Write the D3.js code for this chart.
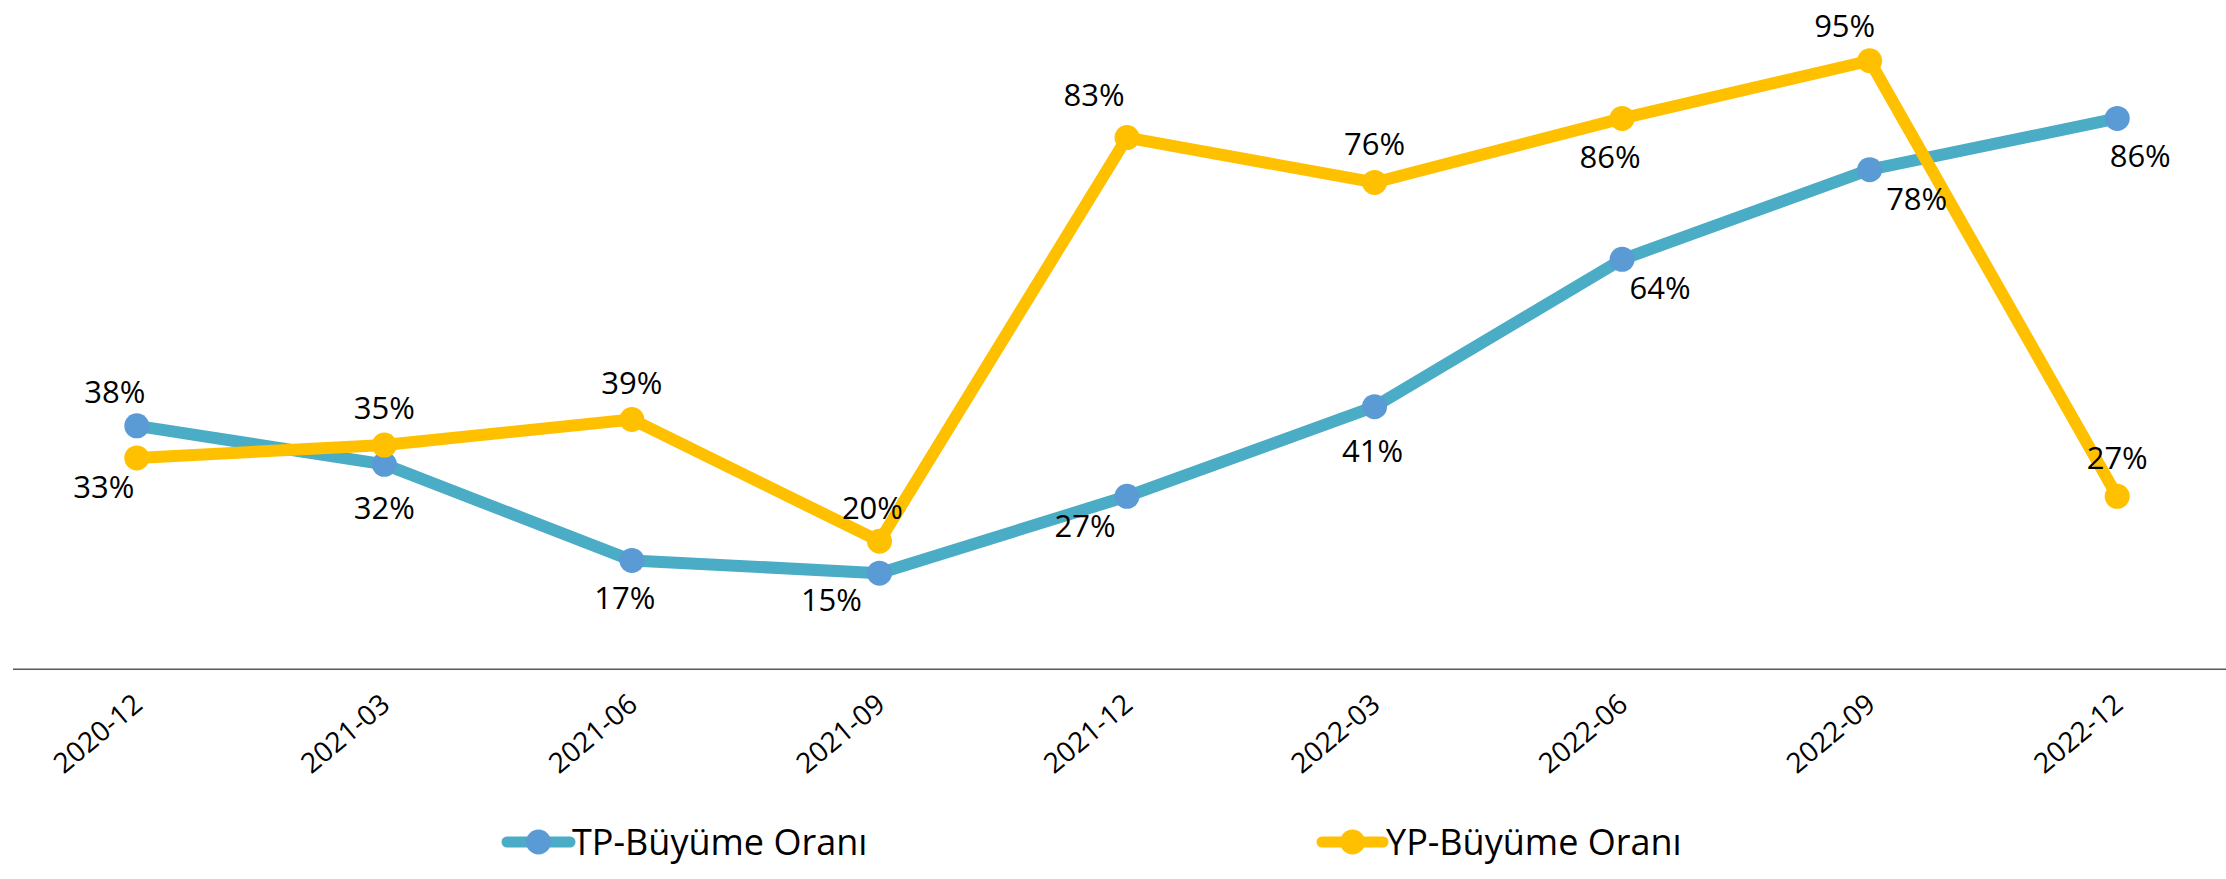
<!DOCTYPE html>
<html>
<head>
<meta charset="utf-8">
<script src="https://cdn.jsdelivr.net/npm/d3@7"></script>
<style>
  html, body { margin: 0; padding: 0; background: #fff; }
  svg { display: block; }
  text { font-family: "Open Sans", "Noto Sans", sans-serif; fill: #000; }
</style>
</head>
<body>
<svg id="chart" width="2226" height="879"></svg>
<script>
// ---- data ----
const categories = ["2020-12","2021-03","2021-06","2021-09","2021-12","2022-03","2022-06","2022-09","2022-12"];
const tpValues = [0.38, 0.32, 0.17, 0.15, 0.27, 0.41, 0.64, 0.78, 0.86];
const ypValues = [0.33, 0.35, 0.39, 0.20, 0.83, 0.76, 0.86, 0.95, 0.27];
const seriesNames = ["TP-Büyüme Oranı", "YP-Büyüme Oranı"];

// ---- label placement (layout config, px offsets from point) ----
const tpLabelOffsets = [[-22,-34],[0,44],[-7,37],[-48,27],[-42,30],[-2,44],[38,29],[47,29],[23,37]];
const ypLabelOffsets = [[-33,29],[0,-37],[0,-37],[-7,-33],[-33,-43],[0,-39],[-12,38],[-25,-35],[0,-38]];

const svg = d3.select("#chart");
const axisY = 669.3;
const x = d3.scalePoint().domain(categories).range([13, 2241]).padding(0.5);
const y = d3.scaleLinear().domain([0, 1]).range([axisY, 28.7]);

const series = [
  { name: seriesNames[0], values: tpValues, line: "#4BACC6", marker: "#5B9BD5", offsets: tpLabelOffsets },
  { name: seriesNames[1], values: ypValues, line: "#FFC000", marker: "#FFC000", offsets: ypLabelOffsets }
];

// axis line
svg.append("line")
  .attr("x1", 13).attr("x2", 2226)
  .attr("y1", axisY).attr("y2", axisY)
  .attr("stroke", "#595959").attr("stroke-width", 1.5);

// x axis labels
const xAxis = d3.axisBottom(x).tickSize(0).tickPadding(0);
const gx = svg.append("g").attr("transform", `translate(0,${axisY})`).call(xAxis);
gx.select(".domain").remove();
gx.selectAll(".tick text")
  .attr("font-size", 28)
  .attr("font-family", "'Open Sans', sans-serif")
  .attr("fill", "#000")
  .attr("text-anchor", "end")
  .attr("y", 0).attr("dy", 0)
  .attr("transform", "translate(7,38) rotate(-40)");

// lines
const lineGen = d3.line().x((d, i) => x(categories[i])).y(d => y(d));
series.forEach(s => {
  svg.append("path")
    .datum(s.values)
    .attr("d", lineGen)
    .attr("fill", "none")
    .attr("stroke", s.line)
    .attr("stroke-width", 12)
    .attr("stroke-linejoin", "round")
    .attr("stroke-linecap", "round");
  svg.append("g").selectAll("circle")
    .data(s.values)
    .join("circle")
    .attr("cx", (d, i) => x(categories[i]))
    .attr("cy", d => y(d))
    .attr("r", 12.5)
    .attr("fill", s.marker);
});

// data labels
const fmt = d3.format(".0%");
series.forEach(s => {
  svg.append("g").selectAll("text")
    .data(s.values)
    .join("text")
    .attr("x", (d, i) => x(categories[i]) + s.offsets[i][0])
    .attr("y", (d, i) => y(d) + s.offsets[i][1])
    .attr("dy", "0.36em")
    .attr("text-anchor", "middle")
    .attr("font-size", 31)
    .text(d => fmt(d));
});

// legend
const legendItems = [
  { s: series[0], lx1: 507, lx2: 570, tx: 572 },
  { s: series[1], lx1: 1322, lx2: 1383, tx: 1386 }
];
const ly = 842;
legendItems.forEach(item => {
  const g = svg.append("g");
  g.append("line")
    .attr("x1", item.lx1).attr("x2", item.lx2)
    .attr("y1", ly).attr("y2", ly)
    .attr("stroke", item.s.line).attr("stroke-width", 11)
    .attr("stroke-linecap", "round");
  g.append("circle")
    .attr("cx", (item.lx1 + item.lx2) / 2).attr("cy", ly)
    .attr("r", 12.5).attr("fill", item.s.marker);
  g.append("text")
    .attr("x", item.tx).attr("y", 855)
    .attr("font-size", 36)
    .text(item.s.name);
});
</script>
</body>
</html>
